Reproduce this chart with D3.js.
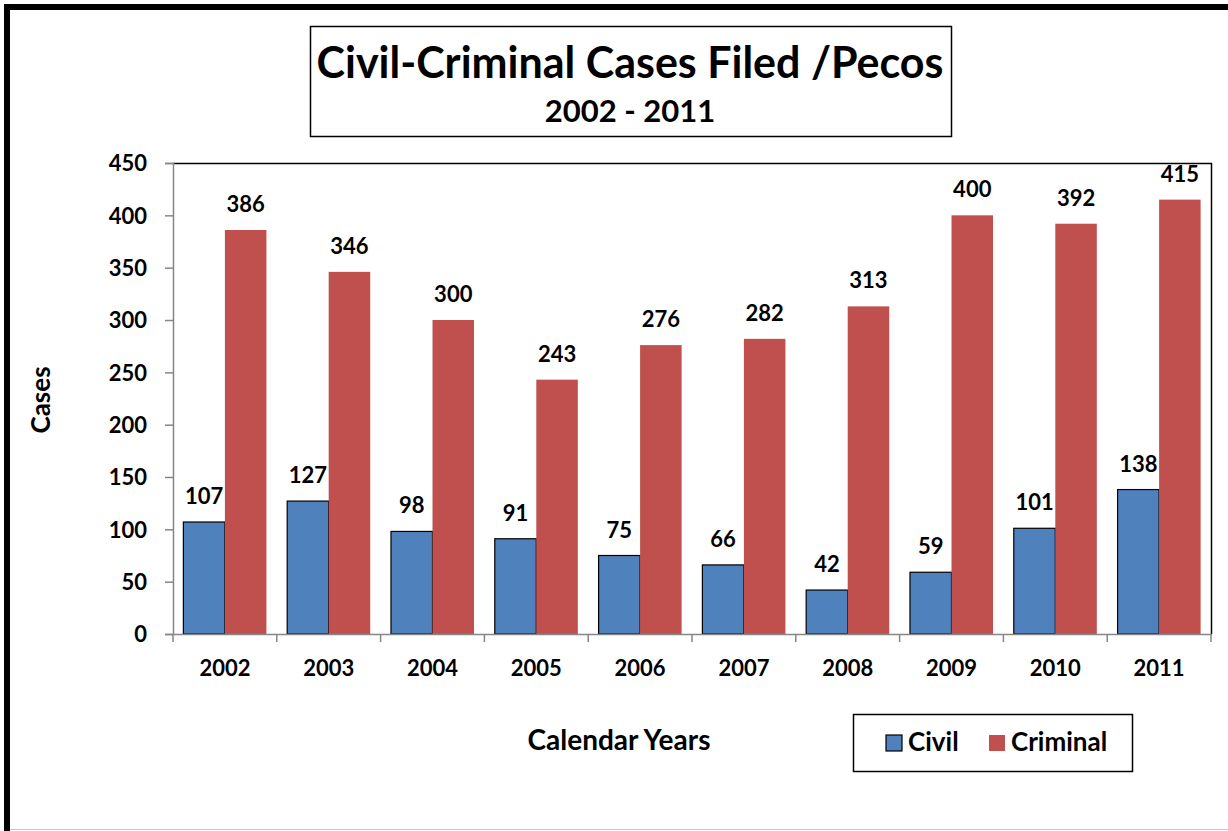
<!DOCTYPE html>
<html lang="en">
<head>
    <meta charset="UTF-8">
    <title>Civil-Criminal Cases Filed /Pecos</title>
    <script src="https://d3js.org/d3.v7.min.js"></script>
    <style>
        body { margin: 0; background: #fff; }
        text { font-family: Lato, "Open Sans", sans-serif; font-weight: bold; fill: #000; }
    </style>
</head>
<body>
    <script>
        // chart data
        const years = ["2002", "2003", "2004", "2005", "2006", "2007", "2008", "2009", "2010", "2011"];
        const civil = [107, 127, 98, 91, 75, 66, 42, 59, 101, 138];
        const criminal = [386, 346, 300, 243, 276, 282, 313, 400, 392, 415];
        const seriesNames = ["Civil", "Criminal"];
        const yTicks = [0, 50, 100, 150, 200, 250, 300, 350, 400, 450];

        const width = 1228, height = 831;
        const plot = { left: 173, right: 1211, top: 163, bottom: 634 };

        const svg = d3.select("body").append("svg")
            .attr("width", width)
            .attr("height", height);

        // outer frame
        svg.append("rect").attr("x", 0).attr("y", 0).attr("width", width).attr("height", height).attr("fill", "#fff");
        svg.append("line").attr("x1", 7).attr("x2", 7).attr("y1", 4).attr("y2", height).attr("stroke", "#000").attr("stroke-width", 6);
        svg.append("line").attr("x1", 4).attr("x2", width).attr("y1", 7).attr("y2", 7).attr("stroke", "#000").attr("stroke-width", 6);
        svg.append("line").attr("x1", 10).attr("x2", width).attr("y1", 829.5).attr("y2", 829.5).attr("stroke", "#c8c8c8").attr("stroke-width", 1);

        // title box
        svg.append("rect").attr("x", 310.5).attr("y", 26.5).attr("width", 641).attr("height", 110)
            .attr("fill", "#fff").attr("stroke", "#000").attr("stroke-width", 1.5);
        svg.append("text").attr("x", 630).attr("y", 78).attr("text-anchor", "middle")
            .style("font-size", "43px").text("Civil-Criminal Cases Filed /Pecos");
        svg.append("text").attr("x", 630).attr("y", 122).attr("text-anchor", "middle")
            .style("font-size", "31px").text("2002 - 2011");

        const x = d3.scaleBand().domain(years).range([plot.left, plot.right]).paddingInner(0).paddingOuter(0);
        const xs = d3.scaleBand().domain(seriesNames).range([0, x.bandwidth()]).paddingInner(0).paddingOuter(0.25);
        const y = d3.scaleLinear().domain([0, 450]).range([plot.bottom, plot.top]);
        const color = d3.scaleOrdinal().domain(seriesNames).range(["#4F81BD", "#C0504D"]);

        // plot area border (top + right)
        svg.append("path")
            .attr("d", `M${plot.left},${plot.top + 0.5}H${plot.right + 0.5}V${plot.bottom}`)
            .attr("fill", "none").attr("stroke", "#000").attr("stroke-width", 1.5);

        const rows = years.map((yr, i) => ({ year: yr, values: [
            { key: "Civil", value: civil[i] },
            { key: "Criminal", value: criminal[i] }
        ] }));

        const groups = svg.selectAll(".year")
            .data(rows)
            .enter().append("g")
            .attr("transform", d => `translate(${x(d.year)},0)`);

        groups.selectAll("rect")
            .data(d => d.values)
            .enter().append("rect")
            .attr("x", d => xs(d.key))
            .attr("width", xs.bandwidth())
            .attr("y", d => y(d.value))
            .attr("height", d => y(0) - y(d.value))
            .attr("fill", d => color(d.key))
            .attr("stroke", d => d.key === "Civil" ? "#000" : "none")
            .attr("stroke-width", 1.2);

        groups.selectAll(".lbl")
            .data(d => d.values)
            .enter().append("text")
            .attr("class", "lbl")
            .attr("x", d => xs(d.key) + xs.bandwidth() / 2)
            .attr("y", d => y(d.value) - 18)
            .attr("text-anchor", "middle")
            .style("font-size", "22px")
            .text(d => d.value);

        // axes
        const yAxis = svg.append("g")
            .attr("transform", `translate(${plot.left},0)`)
            .call(d3.axisLeft(y).tickValues(yTicks).tickSize(8).tickPadding(18));
        yAxis.selectAll("text").style("font-size", "22px").attr("dy", "0.35em");

        const xAxis = svg.append("g")
            .attr("transform", `translate(0,${plot.bottom})`)
            .call(d3.axisBottom(x).tickSize(0));
        xAxis.selectAll("text").style("font-size", "22px").attr("y", 42).attr("dy", 0);
        // category separators
        xAxis.selectAll(".sep")
            .data(years.concat(["end"]))
            .enter().append("line")
            .attr("class", "sep")
            .attr("x1", (d, i) => plot.left + i * x.bandwidth())
            .attr("x2", (d, i) => plot.left + i * x.bandwidth())
            .attr("y1", 0).attr("y2", 8)
            .attr("stroke", "#868686").attr("stroke-width", 1.5);

        svg.selectAll(".domain, .tick line").attr("stroke", "#868686").attr("stroke-width", 1.5);

        // axis titles
        svg.append("text")
            .attr("transform", "translate(50,400) rotate(-90)")
            .attr("text-anchor", "middle")
            .style("font-size", "26px")
            .text("Cases");
        svg.append("text")
            .attr("x", 619).attr("y", 750)
            .attr("text-anchor", "middle")
            .style("font-size", "28px")
            .text("Calendar Years");

        // legend
        svg.append("rect").attr("x", 853.5).attr("y", 714.5).attr("width", 279).attr("height", 57)
            .attr("fill", "#fff").attr("stroke", "#000").attr("stroke-width", 1.5);
        const legendPos = [{ sx: 886, tx: 908 }, { sx: 989, tx: 1011 }];
        const legend = svg.selectAll(".legend")
            .data(seriesNames)
            .enter().append("g");
        legend.append("rect")
            .attr("x", (d, i) => legendPos[i].sx)
            .attr("y", 735)
            .attr("width", 16).attr("height", 16)
            .attr("fill", d => color(d))
            .attr("stroke", d => d === "Civil" ? "#000" : "none")
            .attr("stroke-width", 1.2);
        legend.append("text")
            .attr("x", (d, i) => legendPos[i].tx)
            .attr("y", 751)
            .style("font-size", "26px")
            .text(d => d);
    </script>
</body>
</html>
